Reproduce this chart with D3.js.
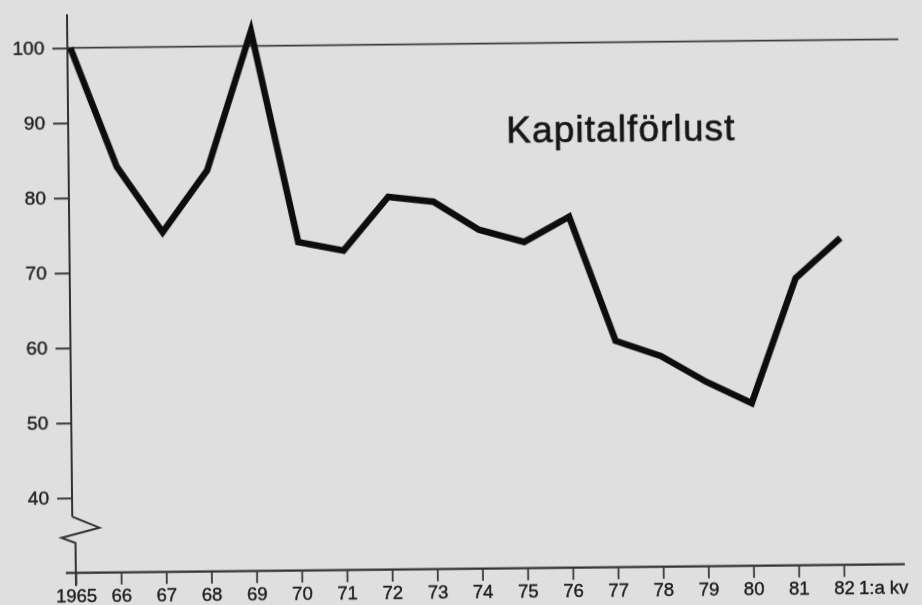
<!DOCTYPE html>
<html>
<head>
<meta charset="utf-8">
<script src="https://cdn.jsdelivr.net/npm/d3@7"></script>
<style>
  html, body { margin: 0; padding: 0; background: #dfdfdf; }
  svg { display: block; }
  text { font-family: "Liberation Sans", Arial, Helvetica, sans-serif; }
</style>
</head>
<body>
<svg id="chart"></svg>
<script>
// data
var years = [1965, 1966, 1967, 1968, 1969, 1970, 1971, 1972, 1973, 1974, 1975, 1976, 1977, 1978, 1979, 1980, 1981, 1982]
var xLabels = ["1965", "66", "67", "68", "69", "70", "71", "72", "73", "74", "75", "76", "77", "78", "79", "80", "81", "82"]
var values = [100, 84.1, 75.3, 83.5, 102, 73.8, 72.6, 79.7, 79.0, 75.2, 73.5, 76.8, 60.2, 58.1, 54.6, 51.7, 68.3, 73.6]
var yTicks = [40, 50, 60, 70, 80, 90, 100]
var refValue = 100
var title = "Kapitalförlust"
var tailLabel = "1:a kv"

var w = 922
var h = 605

var svg = d3.select("#chart")
    .attr("width", w)
    .attr("height", h)

svg.append("rect")
    .attr("width", w)
    .attr("height", h)
    .attr("fill", "#dfdfdf")

var defs = svg.append("defs")
defs.append("filter")
    .attr("id", "soft")
    .append("feGaussianBlur")
    .attr("stdDeviation", 0.45)

// the photographed page sits a little crooked
var g = svg.append("g")
    .attr("transform", "rotate(-0.6, 480, 300)")
    .attr("filter", "url(#soft)")

var x = d3.scaleLinear().domain([1965, 1982]).range([73, 841])
var y = d3.scaleLinear().domain([30, 100]).range([568.7, 43.7])

var x0 = x(years[0])
var yAxisX = x0 - 3
var labelFill = "#1c1c1c"

// reference line at 100
g.append("line")
    .attr("x1", yAxisX)
    .attr("x2", x(1982) + 60)
    .attr("y1", y(refValue))
    .attr("y2", y(refValue))
    .attr("stroke", "#3a3a3a")
    .attr("stroke-width", 1.8)

// y axis (upper part, with ticks)
var yAxis = g.append("g")
    .attr("transform", "translate(" + yAxisX + ",0)")
    .call(d3.axisLeft(y).tickValues(yTicks).tickSize(15).tickPadding(8))
yAxis.select(".domain").remove()
yAxis.selectAll("line").attr("stroke", "#3a3a3a").attr("stroke-width", 2)
yAxis.selectAll("text")
    .attr("fill", labelFill)
    .attr("stroke", labelFill)
    .attr("stroke-width", 0.4)
    .style("font-size", "19px")

g.append("line")
    .attr("x1", yAxisX).attr("x2", yAxisX)
    .attr("y1", y(104.5)).attr("y2", y(37.5))
    .attr("stroke", "#333").attr("stroke-width", 2)

// axis break zigzag, then the lower stub down to the x axis
var breakPts = [
    [yAxisX, y(37.5)],
    [x0 + 24, y(36.0)],
    [x0 - 14, y(34.7)],
    [x0, y(34.0)],
    [x0, y(30) + 13]
]
g.append("path")
    .attr("d", d3.line()(breakPts))
    .attr("fill", "none")
    .attr("stroke", "#333")
    .attr("stroke-width", 2)
    .attr("stroke-linejoin", "miter")

// x axis
g.append("line")
    .attr("x1", x0 - 10)
    .attr("x2", x(1982) + 61)
    .attr("y1", y(30))
    .attr("y2", y(30))
    .attr("stroke", "#333")
    .attr("stroke-width", 2.2)

var xAxis = g.append("g")
    .attr("transform", "translate(0," + y(30) + ")")
    .call(d3.axisBottom(x)
        .tickValues(years)
        .tickFormat(function(d, i) { return xLabels[i] })
        .tickSize(12)
        .tickPadding(4))
xAxis.select(".domain").remove()
xAxis.selectAll("line").attr("stroke", "#3a3a3a").attr("stroke-width", 1.8)
xAxis.selectAll("text")
    .attr("fill", labelFill)
    .attr("stroke", labelFill)
    .attr("stroke-width", 0.4)
    .style("font-size", "18.5px")

g.append("text")
    .attr("x", x(1982) + 15)
    .attr("y", y(30) + 16)
    .attr("dy", "0.71em")
    .attr("fill", labelFill)
    .attr("stroke", labelFill)
    .attr("stroke-width", 0.4)
    .style("font-size", "18.5px")
    .text(tailLabel)

// the series
var line = d3.line()
    .x(function(d, i) { return x(years[i]) })
    .y(function(d) { return y(d) })

g.append("path")
    .datum(values)
    .attr("d", line)
    .attr("fill", "none")
    .attr("stroke", "#111")
    .attr("stroke-width", 6.5)
    .attr("stroke-linejoin", "miter")
    .attr("stroke-miterlimit", 4)

g.append("text")
    .attr("x", 508)
    .attr("y", 143)
    .attr("fill", "#141414")
    .attr("stroke", "#141414")
    .attr("stroke-width", 0.6)
    .style("font-size", "37px")
    .style("letter-spacing", "1.1px")
    .text(title)
</script>
</body>
</html>
